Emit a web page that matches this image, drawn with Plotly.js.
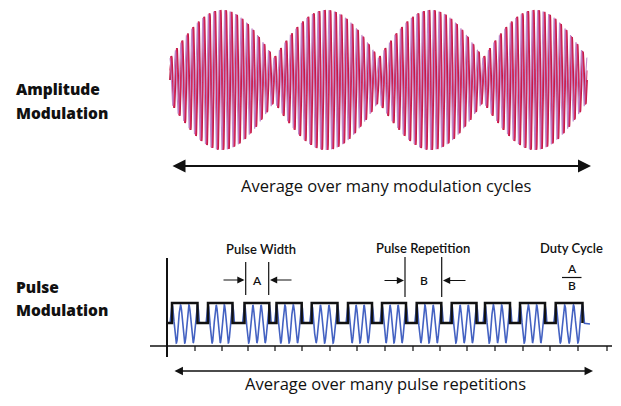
<!DOCTYPE html>
<html><head><meta charset="utf-8">
<script src="https://cdn.plot.ly/plotly-3.0.1.min.js"></script>
<style>html,body{margin:0;padding:0;background:#fff;}#chart{width:621px;height:406px;}</style>
</head><body><div id="chart"></div>
<script>
// ---------- Amplitude modulation ----------
const amNodes = [170, 274, 378.5, 483, 587];      // x where the envelope pinches
const amCyclesPerLobe = [19, 19, 19, 19];          // carrier cycles in each lobe
const amLobePeak = [70, 70, 70, 70];               // half-height of each lobe
const amNodeAmp = [22];                            // half-height at the pinch
const amCenter = [80];

// ---------- Pulse modulation ----------
const pulseRise = [172, 208, 244.5, 276.5, 311.7, 348, 382, 416.7, 451.7, 485, 520, 555.7];
const pulseFall = [197.5, 232.5, 269.3, 301.7, 337.5, 372, 406, 441.3, 476.5, 510, 545, 582.5];
const pulseLevels = [303, 323];                    // high, low
const burstCenterAmp = [324, 19];                  // centre, half-height of carrier burst
const burstCycles = [3.5];
const axisTicks = [195, 222, 248, 275, 302, 330, 357, 385, 413, 440, 467, 495, 523, 550, 578, 607];

// ---------- Texts ----------
const labels = ["Amplitude", "Modulation", "Pulse", "Modulation"];
const captions = ["Average over many modulation cycles", "Average over many pulse repetitions"];
const pulseTitles = ["Pulse Width", "Pulse Repetition", "Duty Cycle"];
const letters = ["A", "B"];

// build AM waveform
function amWave(phase) {
  const xs = [], ys = [];
  for (let k = 0; k < amNodes.length - 1; k++) {
    const x0 = amNodes[k], x1 = amNodes[k + 1], L = x1 - x0, N = amCyclesPerLobe[k];
    const steps = Math.round(L / 0.15);
    for (let i = (k === 0 ? 0 : 1); i <= steps; i++) {
      const u = i / steps;
      const env = amNodeAmp[0] + (amLobePeak[k] - amNodeAmp[0]) * Math.sin(Math.PI * u);
      xs.push(x0 + u * L);
      ys.push(amCenter[0] - env * Math.sin(2 * Math.PI * N * u + phase));
    }
  }
  return {xs, ys};
}
const amA = amWave(0), amB = amWave(0.45), amC = amWave(1.7);

// pulse envelope
const px = [167], py = [pulseLevels[1]];
pulseRise.forEach((r, i) => {
  const f = pulseFall[i];
  px.push(r, r, f, f);
  py.push(pulseLevels[1], pulseLevels[0], pulseLevels[0], pulseLevels[1]);
});

// carrier bursts
const bx = [], by = [];
pulseRise.forEach((r, i) => {
  const f = pulseFall[i];
  const a = r - 2, b = f + 2, P = (b - a) / burstCycles[0];
  for (let x = a; x <= b + 1e-6; x += 0.15) {
    bx.push(x);
    by.push(burstCenterAmp[0] - burstCenterAmp[1] * Math.sin(2 * Math.PI * (x - a) / P));
  }
  if (i === pulseRise.length - 1) { bx.push(590); by.push(burstCenterAmp[0]); }
  bx.push(null); by.push(null);
});

// ticks
const tx = [], ty = [];
axisTicks.forEach(t => { tx.push(t, t, null); ty.push(346, 351, null); });

const traces = [
  {x: amA.xs, y: amA.ys, mode: 'lines', line: {color: '#bb1540', width: 1.8}, hoverinfo: 'skip'},
  {x: amB.xs, y: amB.ys, mode: 'lines', line: {color: '#d9285c', width: 1.0}, hoverinfo: 'skip'},
  {x: amC.xs, y: amC.ys, mode: 'lines', line: {color: '#b97dc7', width: 1.1}, opacity: 0.9, hoverinfo: 'skip'},
  {x: bx, y: by, mode: 'lines', line: {color: '#4462c2', width: 1.6}, connectgaps: false, hoverinfo: 'skip'},
  {x: px, y: py, mode: 'lines', line: {color: '#111', width: 2.5}, hoverinfo: 'skip'},
  {x: tx, y: ty, mode: 'lines', line: {color: '#222', width: 1.3}, hoverinfo: 'skip'}
];

const F = 'Lato, "Open Sans", sans-serif';
const F2 = '"Open Sans", Lato, sans-serif';
const txt = (x, y, t, size, weight, xanchor, fam) => ({x, y, text: t, showarrow: false, xref: 'x', yref: 'y',
  xanchor: xanchor || 'center', yanchor: 'middle', font: {family: fam || F, size, color: '#111', weight: weight || 400}});
const arrow = (x, y, ax, ay, w, s, both) => ({x, y, ax, ay, axref: 'x', ayref: 'y', xref: 'x', yref: 'y',
  text: '', showarrow: true, arrowhead: 2, arrowsize: s, arrowwidth: w, arrowcolor: '#111', standoff: 0, startstandoff: 0,
  arrowside: both ? 'end+start' : 'end', startarrowhead: 2, startarrowsize: s});

const annotations = [
  txt(14, 89, labels[0], 15.5, 800, 'left', F2),
  txt(14, 113, labels[1], 15.5, 800, 'left', F2),
  txt(14, 287, labels[2], 15.5, 800, 'left', F2),
  txt(14, 310, labels[3], 15.5, 800, 'left', F2),
  txt(386, 185, captions[0], 16.5, 400, 'center', F2),
  txt(385, 383, captions[1], 16.5, 400, 'center', F2),
  txt(260.5, 249, pulseTitles[0], 13, 600),
  txt(422.5, 248, pulseTitles[1], 13, 600),
  txt(571.5, 248, pulseTitles[2], 13, 600),
  txt(257, 280, letters[0], 12, 600),
  txt(423.5, 280, letters[1], 12, 600),
  txt(571.5, 268.5, letters[0], 12, 600),
  txt(571.5, 285.5, letters[1], 12, 600),
  arrow(591, 166, 171, 166, 2, 1.3, true),
  arrow(593, 371, 173, 371, 1.3, 1.3, true),
  arrow(244.5, 280, 222, 280, 1.2, 1.2),
  arrow(270, 280, 293, 280, 1.2, 1.2),
  arrow(404, 280.5, 383, 280.5, 1.2, 1.2),
  arrow(443, 280.5, 467, 280.5, 1.2, 1.2)
];

const ln = (x0, y0, x1, y1, w, c) => ({type: 'line', xref: 'x', yref: 'y', x0, y0, x1, y1, line: {color: c || '#111', width: w}});
const shapes = [
  ln(150, 346, 612, 346, 1.5),
  ln(167, 258, 167, 357, 2),
  ln(245.7, 262, 245.7, 295, 1.2),
  ln(268.7, 262, 268.7, 295, 1.2),
  ln(405, 257, 405, 297, 1.2),
  ln(441.7, 257, 441.7, 297, 1.2),
  ln(562, 277.5, 581.5, 277.5, 1.2)
];

const layout = {
  width: 621, height: 406, margin: {l: 0, r: 0, t: 0, b: 0},
  paper_bgcolor: '#fff', plot_bgcolor: '#fff', showlegend: false,
  xaxis: {range: [0, 621], visible: false, fixedrange: true},
  yaxis: {range: [406, 0], visible: false, fixedrange: true},
  annotations, shapes
};
Plotly.newPlot('chart', traces, layout, {staticPlot: true, displayModeBar: false});
</script></body></html>
